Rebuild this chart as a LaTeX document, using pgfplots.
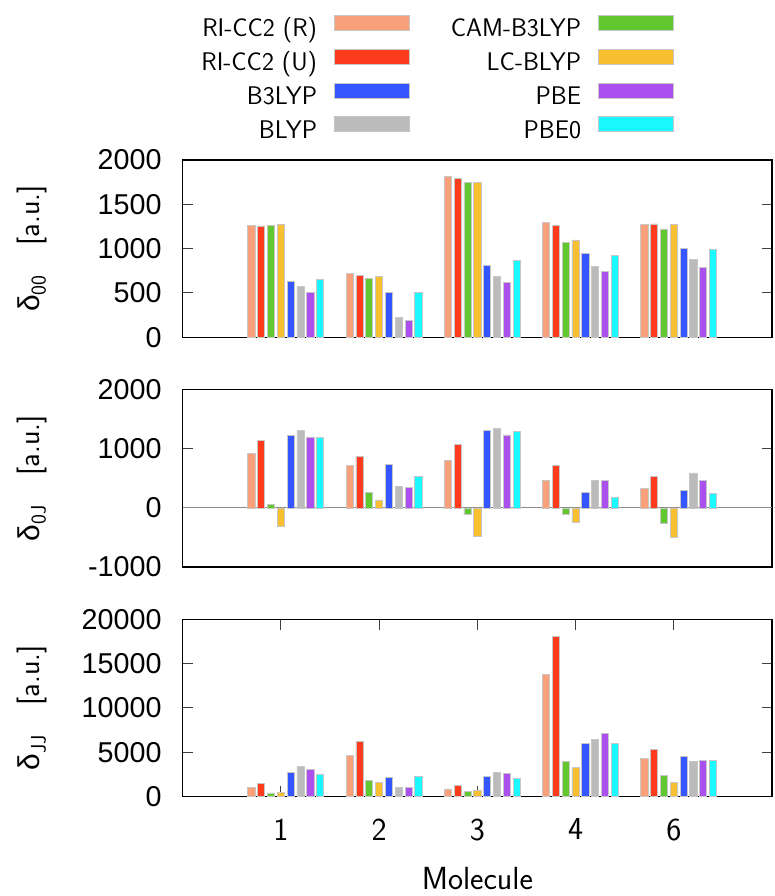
\documentclass[border=0pt]{standalone}
\usepackage{fontspec}
\usepackage{pgfplots}
\usepackage{pgfplotstable}
\pgfplotsset{compat=1.18}
\newfontfamily\arialfont{Liberation Sans}
\definecolor{cR}{HTML}{F8A07A}
\definecolor{cU}{HTML}{FF3B1E}
\definecolor{cCAM}{HTML}{62C830}
\definecolor{cLC}{HTML}{F8BF31}
\definecolor{cBT}{HTML}{3556FF}
\definecolor{cBL}{HTML}{BBBBBB}
\definecolor{cPBE}{HTML}{AB50EE}
\definecolor{cPZ}{HTML}{1CF8FF}

\pgfplotstableread{
x  r     u     cam   lc    bt    bl    pbe   pz
1  1264  1256  1260  1272  630   570   509   650
2  717   695   664   683   502   219   189   506
3  1819  1793  1751  1747  811   683   619   868
4  1294  1260  1075  1098  943   796   743   921
5  1272  1279  1222  1268  1000  879   789   996
}\tabA
\pgfplotstableread{
x  r     u     cam   lc    bt    bl    pbe   pz
1  925   1146  57    -305  1230  1315  1201  1191
2  717   875   260   135   734   367   350   536
3  807   1078  -112  -484  1315  1343  1235  1293
4  464   717   -118  -247  260   464   464   176
5  333   531   -259  -491  294   592   464   249
}\tabB
\pgfplotstableread{
x  r      u      cam   lc    bt    bl    pbe   pz
1  1019   1471   415   490   2680  3360  3093  2490
2  4678   6190   1849  1547  2189  1057  1019  2227
3  868    1245   604   755   2227  2716  2565  2037
4  13770  18030  3995  3282  5999  6486  7097  5999
5  4267   5354   2411  1585  4528  3927  4041  4075
}\tabC

\newcommand\yfont{\arialfont\fontsize{28.7}{30}\selectfont}
\newcommand\xfont{\sffamily\fontsize{32}{36}\selectfont}
\newcommand\labfont{\sffamily\fontsize{30}{32}\selectfont}
\newcommand\legfont{\sffamily\fontsize{25.5}{28}\selectfont}
\newcommand\ylab[1]{{\arialfont δ}\raisebox{-6pt}{\fontsize{21}{21}\selectfont #1}\quad[a.u.]}

\pgfplotsset{
  barst/.style={ybar, bar width=0.073, bar shift=0pt, draw=black!22, line width=0.8pt, forget plot},
  panel/.style={
    width=589.3pt, height=177.3pt, scale only axis,
    xmin=0, xmax=6,
    scaled y ticks=false,
    axis line style={line width=1.4pt, black},
    major tick length=10.5pt,
    tick style={line width=1pt, black!75},
    yticklabel style={font=\yfont, anchor=east, inner sep=0pt, xshift=-21pt},
    xticklabel style={font=\xfont, anchor=north, inner sep=0pt, yshift=-22pt},
    every axis y label/.style={at={(axis description cs:-0.2557,0.5)}, rotate=90, anchor=center, font=\labfont},
    every axis x label/.style={at={(axis description cs:0.5,0)}, anchor=base, yshift=-93pt, font=\xfont},
    anchor=north west,
  }
}
\newcommand\panelbars[1]{%
  \addplot[barst, fill=cR]   table[x expr=\thisrow{x}-0.3, y=r]   {#1};
  \addplot[barst, fill=cU]   table[x expr=\thisrow{x}-0.2, y=u]   {#1};
  \addplot[barst, fill=cCAM] table[x expr=\thisrow{x}-0.1, y=cam] {#1};
  \addplot[barst, fill=cLC]  table[x expr=\thisrow{x},     y=lc]  {#1};
  \addplot[barst, fill=cBT]  table[x expr=\thisrow{x}+0.1, y=bt]  {#1};
  \addplot[barst, fill=cBL]  table[x expr=\thisrow{x}+0.2, y=bl]  {#1};
  \addplot[barst, fill=cPBE] table[x expr=\thisrow{x}+0.3, y=pbe] {#1};
  \addplot[barst, fill=cPZ]  table[x expr=\thisrow{x}+0.4, y=pz]  {#1};
}

\begin{document}
\begin{tikzpicture}
\useasboundingbox (0,0) rectangle (774pt,-896pt);

\begin{axis}[panel, at={(182.7pt,-160pt)},
  ymin=0, ymax=2000, ytick={0,500,1000,1500,2000}, yticklabels={0,500,1000,1500,2000},
  xtick=\empty,
  ylabel={\ylab{00}},
  legend columns=2,
  legend plot pos=right,
  legend cell align=right,
  legend image code/.code={\draw[#1] (0pt,1.3pt) rectangle (75pt,16.3pt);},
  legend style={draw=none, fill=none, inner sep=0pt, outer sep=0pt,
    at={(axis description cs:0.8337,1.8190)}, anchor=north east,
    font=\legfont, row sep=4.7pt, column sep=17pt,
    nodes={text height=18pt, text depth=7pt, inner sep=0pt},
    /tikz/every even column/.append style={column sep=41pt}},
]
\panelbars{\tabA}
\addlegendimage{fill=cR, draw=black!22, line width=0.8pt}\addlegendentry{RI-CC2 (R)}
\addlegendimage{fill=cCAM, draw=black!22, line width=0.8pt}\addlegendentry{CAM-B3LYP}
\addlegendimage{fill=cU, draw=black!22, line width=0.8pt}\addlegendentry{RI-CC2 (U)}
\addlegendimage{fill=cLC, draw=black!22, line width=0.8pt}\addlegendentry{LC-BLYP}
\addlegendimage{fill=cBT, draw=black!22, line width=0.8pt}\addlegendentry{B3LYP}
\addlegendimage{fill=cPBE, draw=black!22, line width=0.8pt}\addlegendentry{PBE}
\addlegendimage{fill=cBL, draw=black!22, line width=0.8pt}\addlegendentry{BLYP}
\addlegendimage{fill=cPZ, draw=black!22, line width=0.8pt}\addlegendentry{PBE0}
\end{axis}

\begin{axis}[panel, at={(182.7pt,-389.7pt)},
  ymin=-1000, ymax=2000, ytick={-1000,0,1000,2000}, yticklabels={-1000,0,1000,2000},
  xtick=\empty,
  extra y ticks={0}, extra y tick labels={},
  extra y tick style={grid=major, major grid style={black!45, line width=1pt}, major tick length=0pt},
  ylabel={\ylab{0J}},
]
\panelbars{\tabB}
\end{axis}

\begin{axis}[panel, at={(182.7pt,-619.3pt)},
  ymin=0, ymax=20000, ytick={0,5000,10000,15000,20000}, yticklabels={0,5000,10000,15000,20000},
  xtick={1,2,3,4,5}, xticklabels={1,2,3,4,6},
  ylabel={\ylab{JJ}},
  xlabel={Molecule},
]
\panelbars{\tabC}
\end{axis}
\end{tikzpicture}
\end{document}
